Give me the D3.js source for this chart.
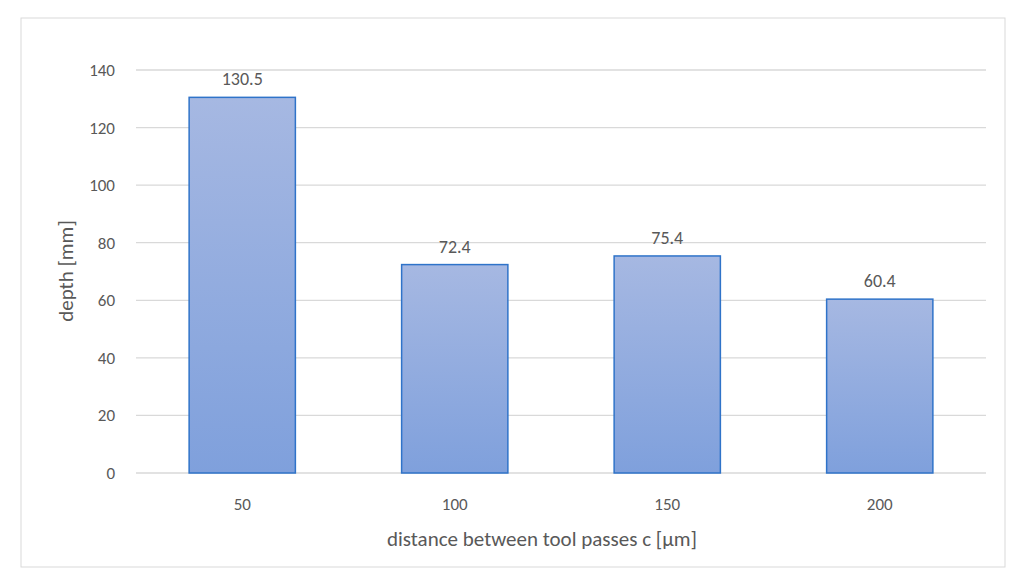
<!DOCTYPE html>
<html><head><meta charset="utf-8">
<script src="https://cdn.jsdelivr.net/npm/d3@7"></script>
<style>body{margin:0;background:#fff}text{font-family:Calibri,Carlito,"Open Sans",sans-serif}</style>
</head><body><svg id="c" width="1024" height="585"></svg>
<script>
var categories = ["50", "100", "150", "200"];
var depths = [130.5, 72.4, 75.4, 60.4];
var yTicks = [0, 20, 40, 60, 80, 100, 120, 140];

var svg = d3.select("#c");
svg.append("rect").attr("x", 21).attr("y", 18).attr("width", 984).attr("height", 549)
    .attr("fill", "#fff").attr("stroke", "#d9d9d9");

var x = d3.scaleBand().domain(categories).range([136, 986]).paddingInner(0.5).paddingOuter(0.25);
var y = d3.scaleLinear().domain([0, 140]).range([473, 70]);

var defs = svg.append("defs");
var grad = defs.append("linearGradient").attr("id", "g").attr("x1", 0).attr("y1", 0).attr("x2", 0).attr("y2", 1);
grad.append("stop").attr("offset", "0%").attr("stop-color", "#a6b8e2");
grad.append("stop").attr("offset", "100%").attr("stop-color", "#7fa0dc");

svg.append("g").selectAll("line").data(yTicks).enter().append("line")
    .attr("x1", 136).attr("x2", 986)
    .attr("y1", function(d){ return y(d); }).attr("y2", function(d){ return y(d); })
    .attr("stroke", "#d9d9d9").attr("stroke-width", 1.3);

svg.append("g").selectAll("text").data(yTicks).enter().append("text")
    .attr("x", 115).attr("y", function(d){ return y(d) + 6; })
    .attr("text-anchor", "end").attr("fill", "#595959").attr("font-size", 17)
    .text(function(d){ return d; });

svg.append("g").selectAll("rect").data(depths).enter().append("rect")
    .attr("x", function(d, i){ return x(categories[i]); })
    .attr("width", x.bandwidth())
    .attr("y", function(d){ return y(d); })
    .attr("height", function(d){ return y(0) - y(d); })
    .attr("fill", "url(#g)").attr("stroke", "#2f73c9").attr("stroke-width", 1.5);

svg.append("g").selectAll("text").data(depths).enter().append("text")
    .attr("x", function(d, i){ return x(categories[i]) + x.bandwidth() / 2; })
    .attr("y", function(d){ return y(d) - 12; })
    .attr("text-anchor", "middle").attr("fill", "#595959").attr("font-size", 18)
    .text(function(d){ return d.toFixed(1); });

svg.append("g").selectAll("text").data(categories).enter().append("text")
    .attr("x", function(d){ return x(d) + x.bandwidth() / 2; })
    .attr("y", 510).attr("text-anchor", "middle").attr("fill", "#595959").attr("font-size", 17)
    .text(function(d){ return d; });

svg.append("text").attr("x", 542).attr("y", 546).attr("text-anchor", "middle")
    .attr("fill", "#595959").attr("font-size", 21).text("distance between tool passes c [µm]");

svg.append("text").attr("transform", "translate(73,271) rotate(-90)").attr("text-anchor", "middle")
    .attr("fill", "#595959").attr("font-size", 21).text("depth [mm]");
</script></body></html>
